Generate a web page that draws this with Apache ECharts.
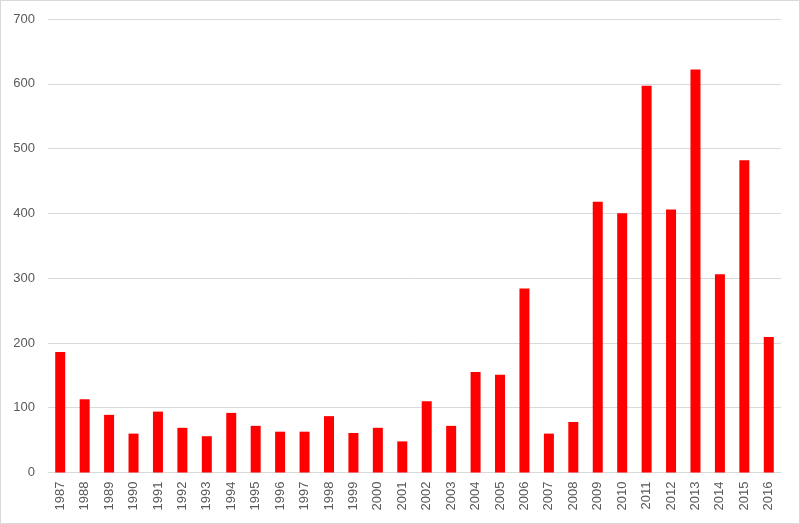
<!DOCTYPE html>
<html>
<head>
<meta charset="utf-8">
<script src="https://cdn.jsdelivr.net/npm/echarts@6/dist/echarts.min.js"></script>
<style>
html,body{margin:0;padding:0;background:#fff;}
#wrap{position:absolute;left:0;top:0;width:798px;height:522px;border:1px solid #d9d9d9;}
#chart{position:absolute;left:-1px;top:-1px;width:800px;height:524px;}
</style>
</head>
<body>
<div id="wrap"><div id="chart"></div></div>
<script>
var years = ['1987','1988','1989','1990','1991','1992','1993','1994','1995','1996','1997','1998','1999','2000','2001','2002','2003','2004','2005','2006','2007','2008','2009','2010','2011','2012','2013','2014','2015','2016'];
var values = [186,113,89,60,94,69,56,92,72,63,63,87,61,69,48,110,72,155,151,284,60,78,418,400,597,406,622,306,482,209];
var yTicks = [0,100,200,300,400,500,600,700];

var chart = echarts.init(document.getElementById('chart'));
chart.setOption({
  animation: false,
  grid: {left: 48, right: 19, top: 19, bottom: 51.5, containLabel: false},
  xAxis: {
    type: 'category',
    data: years,
    axisLine: {lineStyle: {color: '#d9d9d9', width: 1}},
    axisTick: {show: false},
    axisLabel: {rotate: 90, color: '#595959', fontSize: 13, fontFamily: 'Liberation Sans', margin: 9, interval: 0}
  },
  yAxis: {
    type: 'value',
    min: yTicks[0],
    max: yTicks[yTicks.length - 1],
    interval: 100,
    axisLine: {show: false},
    axisTick: {show: false},
    splitLine: {lineStyle: {color: '#d9d9d9', width: 1}},
    axisLabel: {color: '#595959', fontSize: 13, fontFamily: 'Liberation Sans', margin: 13}
  },
  series: [{
    type: 'bar',
    data: values,
    barWidth: 10,
    itemStyle: {color: '#ff0000'}
  }]
});
</script>
</body>
</html>
